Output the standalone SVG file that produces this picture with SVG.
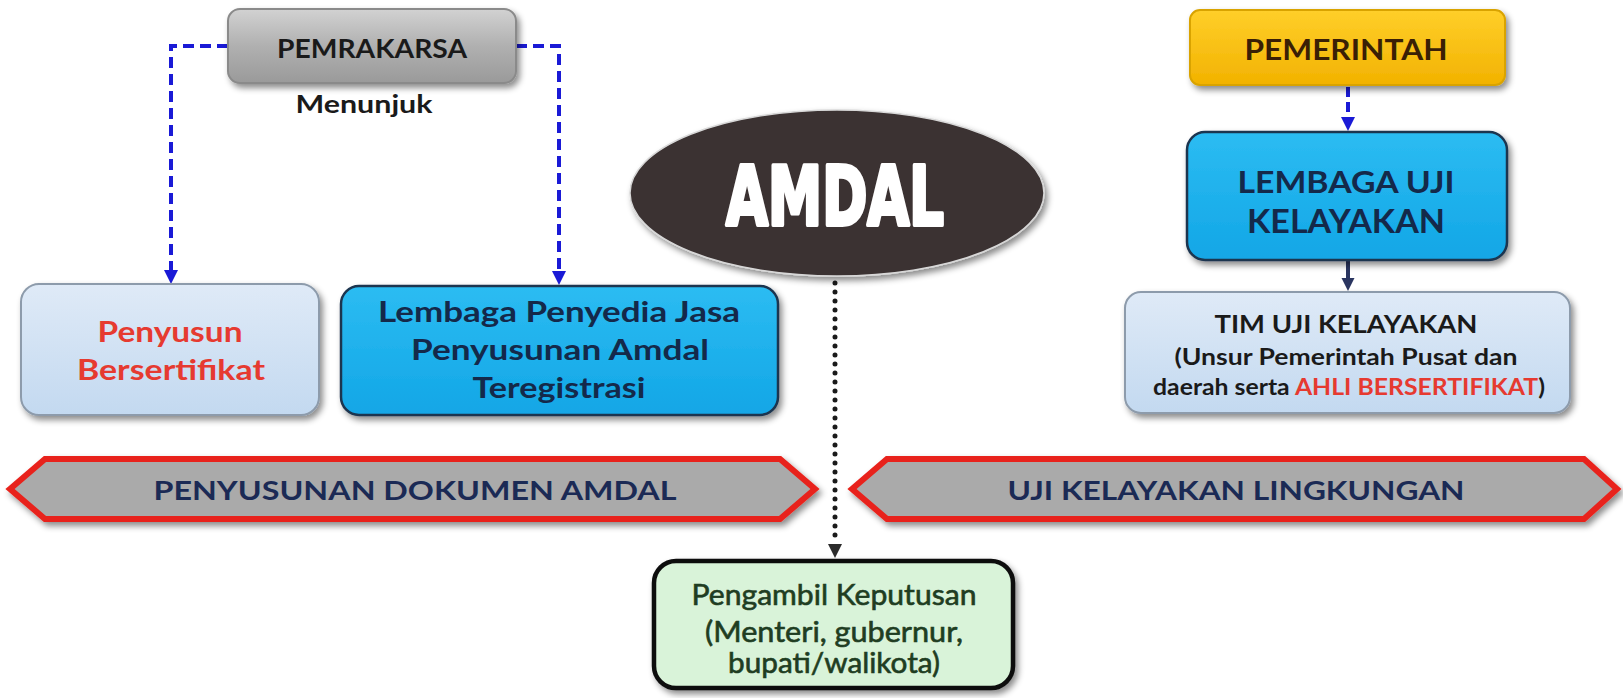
<svg xmlns="http://www.w3.org/2000/svg" width="1623" height="698" viewBox="0 0 1623 698">
<style>
text{font-family:Lato,"Open Sans","Liberation Sans",sans-serif;font-weight:700;text-anchor:middle}
.navy{fill:#14294a}
.red{fill:#e63a30}
.dark{fill:#1a1a1a}
.band{fill:#1b2a55;font-size:27px}
.green{fill:#1f3d22;font-weight:400;font-size:28px;stroke:#1f3d22;stroke-width:0.6}
</style>
<defs>
<filter id="sh" x="-10%" y="-10%" width="125%" height="135%">
<feDropShadow dx="3" dy="4" stdDeviation="3" flood-color="#000" flood-opacity="0.45"/>
</filter>
<linearGradient id="gGray" x1="0" y1="0" x2="0" y2="1"><stop offset="0" stop-color="#d2d2d2"/><stop offset="0.5" stop-color="#b0b0b0"/><stop offset="1" stop-color="#9a9a9a"/></linearGradient>
<linearGradient id="gLight" x1="0" y1="0" x2="0" y2="1"><stop offset="0" stop-color="#dfeaf7"/><stop offset="1" stop-color="#c3d9f0"/></linearGradient>
<linearGradient id="gBlue" x1="0" y1="0" x2="0" y2="1"><stop offset="0" stop-color="#2cbcf2"/><stop offset="1" stop-color="#12a6e6"/></linearGradient>
<linearGradient id="gYel" x1="0" y1="0" x2="0" y2="1"><stop offset="0" stop-color="#ffcf2a"/><stop offset="1" stop-color="#f2b200"/></linearGradient>
<marker id="aBlue" viewBox="0 0 10 10" refX="0" refY="5" markerWidth="14" markerHeight="14" markerUnits="userSpaceOnUse" orient="auto"><path d="M0,0 L10,5 L0,10 z" fill="#1a1ad6"/></marker>
<marker id="aNavy" viewBox="0 0 10 10" refX="0" refY="5" markerWidth="13" markerHeight="14" markerUnits="userSpaceOnUse" orient="auto"><path d="M0,0 L10,5 L0,10 z" fill="#2a3560"/></marker>
<marker id="aBlack" viewBox="0 0 10 10" refX="0" refY="5" markerWidth="14" markerHeight="16" markerUnits="userSpaceOnUse" orient="auto"><path d="M0,0 L10,5 L0,10 z" fill="#2b2b2b"/></marker>
</defs>
<rect width="1623" height="698" fill="#ffffff"/>

<g id="connectors" fill="none">
<path d="M228,46 H171 V270" stroke="#1a1ad6" stroke-width="4" stroke-dasharray="11 6" marker-end="url(#aBlue)"/>
<path d="M516,46 H559 V271" stroke="#1a1ad6" stroke-width="4" stroke-dasharray="11 6" marker-end="url(#aBlue)"/>
<path d="M1348,87 V117" stroke="#1a1ad6" stroke-width="4" stroke-dasharray="10 5" marker-end="url(#aBlue)"/>
<path d="M1348,261 V278" stroke="#2a3560" stroke-width="4" marker-end="url(#aNavy)"/>
<path d="M835,283 V544" stroke="#1a1a1a" stroke-width="5" stroke-linecap="round" stroke-dasharray="0 9" marker-end="url(#aBlack)"/>
</g>

<g id="pemrakarsa">
<rect x="228" y="9" width="288" height="74" rx="12" fill="url(#gGray)" stroke="#8a8a8a" stroke-width="2" filter="url(#sh)"/>
<text x="372" y="58" font-size="27" textLength="190" lengthAdjust="spacingAndGlyphs" class="dark">PEMRAKARSA</text>
</g>
<g id="label-menunjuk">
<text x="364" y="113" font-size="24" textLength="137" lengthAdjust="spacingAndGlyphs" class="dark">Menunjuk</text>
</g>

<g id="penyusun">
<rect x="21" y="284" width="298" height="131" rx="18" fill="url(#gLight)" stroke="#8d9bab" stroke-width="2" filter="url(#sh)"/>
<text x="170" y="342" font-size="28" textLength="145" lengthAdjust="spacingAndGlyphs" class="red">Penyusun</text>
<text x="171" y="380" font-size="28" textLength="188" lengthAdjust="spacingAndGlyphs" class="red">Bersertifikat</text>
</g>

<g id="lembaga-jasa">
<rect x="341" y="286" width="437" height="129" rx="18" fill="url(#gBlue)" stroke="#1d3550" stroke-width="2.5" filter="url(#sh)"/>
<text x="559" y="322" font-size="28" textLength="362" lengthAdjust="spacingAndGlyphs" class="navy">Lembaga Penyedia Jasa</text>
<text x="560" y="360" font-size="28" textLength="298" lengthAdjust="spacingAndGlyphs" class="navy">Penyusunan Amdal</text>
<text x="559" y="398" font-size="28" textLength="173" lengthAdjust="spacingAndGlyphs" class="navy">Teregistrasi</text>
</g>

<g id="amdal">
<ellipse cx="837" cy="193" rx="207" ry="83" fill="#3b3232" stroke="#d8d8d8" stroke-width="1.5" filter="url(#sh)"/>
<text x="835" y="225" font-size="82" textLength="218" lengthAdjust="spacingAndGlyphs" fill="#ffffff" stroke="#ffffff" stroke-width="4" stroke-linejoin="round" style="font-family:'Liberation Sans Narrow','DejaVu Sans Condensed','Liberation Sans',sans-serif;font-weight:700">AMDAL</text>
</g>

<g id="pemerintah">
<rect x="1190" y="10" width="315" height="75" rx="10" fill="url(#gYel)" stroke="#d9a300" stroke-width="2" filter="url(#sh)"/>
<text x="1346" y="60" font-size="28" textLength="203" lengthAdjust="spacingAndGlyphs" fill="#3a1f05">PEMERINTAH</text>
</g>

<g id="lembaga-uji">
<rect x="1187" y="132" width="320" height="128" rx="18" fill="url(#gBlue)" stroke="#1d3550" stroke-width="2.5" filter="url(#sh)"/>
<text x="1346" y="193" font-size="30" textLength="217" lengthAdjust="spacingAndGlyphs" class="navy">LEMBAGA UJI</text>
<text x="1346" y="233" font-size="32" textLength="198" lengthAdjust="spacingAndGlyphs" class="navy">KELAYAKAN</text>
</g>

<g id="tim-uji">
<rect x="1125" y="292" width="445" height="121" rx="16" fill="url(#gLight)" stroke="#8d9bab" stroke-width="2" filter="url(#sh)"/>
<text x="1346" y="333" font-size="25" textLength="263" lengthAdjust="spacingAndGlyphs" class="dark">TIM UJI KELAYAKAN</text>
<text x="1346" y="365" font-size="23" textLength="343" lengthAdjust="spacingAndGlyphs" class="dark">(Unsur Pemerintah Pusat dan</text>
<text x="1349" y="395" font-size="23" textLength="392" lengthAdjust="spacingAndGlyphs" class="dark">daerah serta <tspan class="red">AHLI BERSERTIFIKAT</tspan>)</text>
</g>

<g id="band-penyusunan">
<polygon points="10,489 45,459 780,459 815,489 780,519 45,519" fill="#aaaaaa" stroke="#e8231c" stroke-width="6" stroke-linejoin="miter" filter="url(#sh)"/>
<text x="415" y="500" textLength="523" lengthAdjust="spacingAndGlyphs" class="band">PENYUSUNAN DOKUMEN AMDAL</text>
</g>

<g id="band-uji">
<polygon points="852,489 887,459 1584,459 1617,489 1584,519 887,519" fill="#aaaaaa" stroke="#e8231c" stroke-width="6" stroke-linejoin="miter" filter="url(#sh)"/>
<text x="1236" y="500" textLength="457" lengthAdjust="spacingAndGlyphs" class="band">UJI KELAYAKAN LINGKUNGAN</text>
</g>

<g id="pengambil">
<rect x="654" y="561" width="359" height="127" rx="22" fill="#d9f3d9" stroke="#111111" stroke-width="4.5" filter="url(#sh)"/>
<text x="834" y="605" textLength="285" lengthAdjust="spacingAndGlyphs" class="green">Pengambil Keputusan</text>
<text x="834" y="642" textLength="258" lengthAdjust="spacingAndGlyphs" class="green">(Menteri, gubernur,</text>
<text x="834" y="673" textLength="212" lengthAdjust="spacingAndGlyphs" class="green">bupati/walikota)</text>
</g>
</svg>
